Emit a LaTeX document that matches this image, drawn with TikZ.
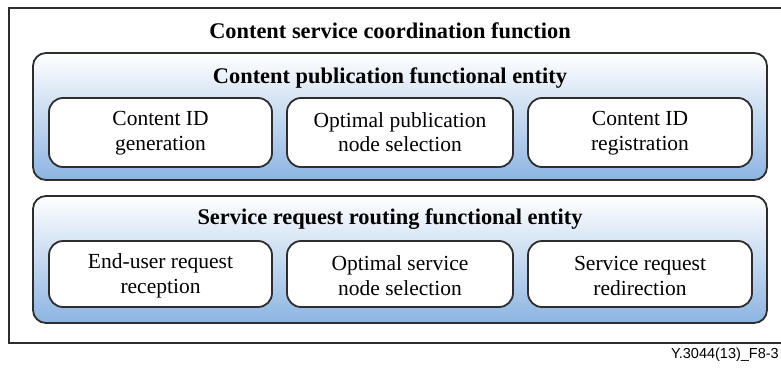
\documentclass[tikz,border=0pt]{standalone}
\usepackage{fontspec}
\setmainfont{Liberation Serif}
\newfontfamily\labelfont{Liberation Sans}
\definecolor{edge}{RGB}{45,45,45}
\definecolor{entityblue}{RGB}{140,180,226}
\begin{document}
\begin{tikzpicture}[x=1pt,y=-1pt,
  framebox/.style={draw=edge,line width=1.6pt},
  entitybox/.style={draw=edge,line width=1.8pt,rounded corners=13pt,
    top color=white,bottom color=entityblue,shading angle=0},
  funcbox/.style={draw=edge,line width=1.8pt,rounded corners=14pt,fill=white},
  functext/.style={font=\fontsize{21.5}{24}\selectfont,anchor=base,inner sep=0pt},
  headtext/.style={font=\fontsize{22.4}{24}\selectfont\bfseries,anchor=base,inner sep=0pt}]
\useasboundingbox (0,0) rectangle (781,369);
% outer coordination function frame (its right side runs past the page edge)
\draw[framebox] (9,8) rectangle (785,343);
\node[headtext] (csf) at (390,39) {Content service coordination function};
% content publication functional entity
\path[entitybox] (33,53) rectangle (767,180);
\node[headtext] (cpfe) at (390,83) {Content publication functional entity};
\draw[funcbox] (49,98) rectangle (272,167);
\draw[funcbox] (287,98) rectangle (513,167);
\draw[funcbox] (528,98) rectangle (752,167);
\node[functext] (idgen1) at (160.5,125) {Content ID};
\node[functext] (idgen2) at (160.5,150) {generation};
\node[functext] (pubsel1) at (400,127) {Optimal publication};
\node[functext] (pubsel2) at (400,151) {node selection};
\node[functext] (idreg1) at (640,125) {Content ID};
\node[functext] (idreg2) at (640,150) {registration};
% service request routing functional entity
\path[entitybox] (33,196) rectangle (767,323);
\node[headtext] (srrfe) at (390,224) {Service request routing functional entity};
\draw[funcbox] (49,241) rectangle (272,307);
\draw[funcbox] (287,241) rectangle (513,307);
\draw[funcbox] (528,241) rectangle (752,307);
\node[functext] (recep1) at (160.5,268.5) {End-user request};
\node[functext] (recep2) at (160.5,293) {reception};
\node[functext] (svcsel1) at (400,270) {Optimal service};
\node[functext] (svcsel2) at (400,295) {node selection};
\node[functext] (redir1) at (640,270) {Service request};
\node[functext] (redir2) at (640,295) {redirection};
% figure reference
\node[font=\labelfont\fontsize{14.5}{16}\selectfont,anchor=base east,inner sep=0pt] (figref) at (779,358) {Y.3044(13)\_F8-3};
\end{tikzpicture}
\end{document}
